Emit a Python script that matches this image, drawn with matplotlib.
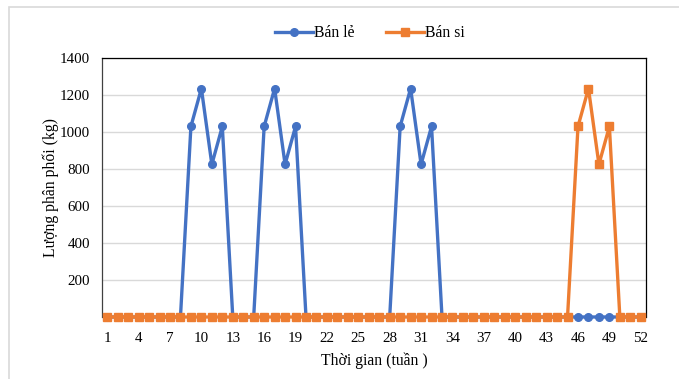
import matplotlib
matplotlib.use("Agg")
import matplotlib.pyplot as plt
import numpy as np
from matplotlib.patches import Rectangle

plt.rcParams['font.family'] = ['Liberation Serif', 'DejaVu Serif']

weeks = np.arange(1, 53)
peak = [1030, 1235, 825, 1030]

# weekly distribution, zero except the four-week delivery windows
ban_le = np.zeros(52)
for start in (9, 16, 29):
    ban_le[start - 1:start + 3] = peak
ban_si = np.zeros(52)
ban_si[45:49] = peak

x_ticks = np.arange(1, 53, 3)
y_ticks = [200, 400, 600, 800, 1000, 1200, 1400]

blue = '#4472c4'
orange = '#ed7d31'

fig = plt.figure(figsize=(6.79, 3.79), dpi=100)
ax = fig.add_axes([102 / 679, 1 - 317 / 379, 544 / 679, 259 / 379])

ax.plot(weeks, ban_le, color=blue, lw=2.4, marker='o', ms=5.5, label='Bán lẻ', clip_on=False, zorder=3)
ax.plot(weeks, ban_si, color=orange, lw=2.4, marker='s', ms=5.8, label='Bán si', clip_on=False, zorder=4)

ax.set_xlim(0.5, 52.5)
ax.set_ylim(0, 1400)
ax.set_xticks(x_ticks)
ax.set_yticks(y_ticks)
ax.tick_params(length=0, labelsize=10.8)
ax.tick_params(axis='x', pad=11)
ax.tick_params(axis='y', pad=8.5)
ax.grid(axis='y', color='#d9d9d9', lw=1)
ax.set_axisbelow(True)

for side in ('top', 'right'):
    ax.spines[side].set_color('black')
    ax.spines[side].set_linewidth(0.9)
ax.spines['left'].set_color('#404040')
ax.spines['left'].set_linewidth(0.9)
ax.spines['bottom'].set_visible(False)

ax.set_xlabel('Thời gian (tuần )', fontsize=11.3, labelpad=5)
ax.set_ylabel('Lượng phân phối (kg)', fontsize=11.3, labelpad=1)

fig.legend(loc='center', bbox_to_anchor=(370 / 679, 1 - 33 / 379), ncol=2, frameon=False,
           fontsize=11.3, handlelength=2.4, handletextpad=0.1, columnspacing=2.0)

# light chart-area border
fig.patches.append(Rectangle((9 / 679, -0.1), 1.2, 1 - 7 / 379 + 0.1, transform=fig.transFigure,
                             fill=False, edgecolor='#d9d9d9', lw=1.2))

fig.savefig('out.png', dpi=100)
